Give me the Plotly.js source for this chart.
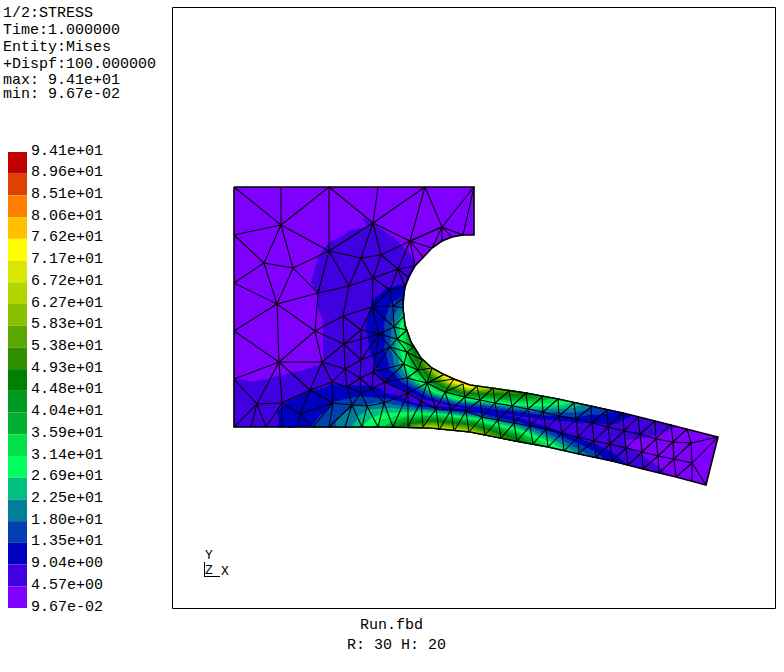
<!DOCTYPE html>
<html><head><meta charset="utf-8">
<script src="https://cdn.plot.ly/plotly-3.0.1.min.js"></script>
<style>html,body{margin:0;padding:0;background:#fff}#g{width:784px;height:672px}</style>
</head><body><div id="g"></div>
<script>
// ---- legend ----
const legendLabels=["9.41e+01","8.96e+01","8.51e+01","8.06e+01","7.62e+01","7.17e+01","6.72e+01","6.27e+01","5.83e+01","5.38e+01","4.93e+01","4.48e+01","4.04e+01","3.59e+01","3.14e+01","2.69e+01","2.25e+01","1.80e+01","1.35e+01","9.04e+00","4.57e+00","9.67e-02"];
const legendColors=["#c00000","#e04000","#ff8000","#ffc000","#ffff00","#d8e800","#b0d800","#88c000","#58a800","#309000","#008000","#009820","#00b030","#00e048","#00ff60","#00c080","#008098","#0040b0","#0000c0","#4000e0","#8000ff"];
const headerLines=["1/2:STRESS","Time:1.000000","Entity:Mises","+Dispf:100.000000","max: 9.41e+01","min: 9.67e-02"];
const headerY=[13,30,47,64,80,94];
const footerLines=["Run.fbd","R: 30 H: 20"];
// ---- stress field: stations from the inner edge to the outer edge of the part ----
const innerX=[474,452,432,415,405,403,405,411,421,432,443,454,470,493,526,558,591,623,655,687,718];
const innerY=[235,237,248,266,287,308,325,342,358,368,374,379,385,388,393,399,406,413,421,429,437];
const outerX=[474,440,400,330,234,234,234,234,234,290,345,385,430,470,515,548,579,612,643,676,706];
const outerY=[187,187,187,187,187,260,330,385,427,427,427,427,428,432,441,447,454,461,469,477,485];
const holeArcX=[474,463,452,442,432,423,415,409,405,403,403];
const holeArcY=[235,235,237,241,248,257,266,276,287,298,308];
const rowFractions=[0,.05,.1,.16,.23,.31,.4,.5,.6,.7,.8,.9,1];
const stationStress=[
[1,1,1,1,1,1,1,1,1,1,1,1,1],
[1.5,1.5,1.5,1.5,1.5,1.5,1.5,1,1,1,1,1,1],
[2,2,2,2,2,2,2,1.5,1,1,1,1,1],
[4.6,5,5.2,5.2,5.2,5.2,5,4.8,4.6,2,1,1,1],
[9.5,8,7,6,5.5,5.2,4.8,4.3,1.5,1,1,1,1],
[20,15,12,9.5,7.5,6.5,5.5,5,4,2,1,1,1],
[33,22,15,11,9,7,5.5,4.3,2,1,1,1,1],
[42,30,20,12,9,7,6,4.5,4.2,4.3,4.4,4.5,5],
[55,38,25,14,9,8,9,10,10.5,10,8.5,7,6],
[66,48,36,24,12,8,10,14,15,14,13,11,10],
[74,60,48,36,22,10,7,14,20,24,24,22,20],
[84,70,58,47,36,22,10,6,18,27,33,36,36],
[80,70,60,50,40,30,18,7,16,30,42,55,68],
[62,56,50,44,36,27,16,9,15,28,41,54,66],
[48,45,41,36,30,22,13,8,12,22,32,42,50],
[33,31,29,25,20,15,10,7,8,14,21,28,34],
[19,17.5,16,14,12,10,7.5,5.5,6.5,9,13,17,22],
[10,10,9.5,9,8.5,7.5,6,5,5,6,8,10,12],
[6,5.8,5.6,5.4,5,4.6,4,3.5,3.5,3.8,4.8,5.6,6.5],
[4,3.8,3.5,3.2,3,2.8,2.5,2.2,2.2,2.5,3,3.5,4],
[2,2,2,2,2,2,2,2,2,2,2,2,2]
];
// ---- mesh ----
const beamTopX=[432,443,454,463,477,493,509,526,542,558,574,591,607,623,638,655,671,687];
const beamTopY=[368,375,379,384,386,388,391,393,397,399,403,407,410,413,417,421,424,429];
const beamUpX=[427,445,465,480,495,512,528,543,559,576,592,608,624,640,656,673,691];
const beamUpY=[383,392,397,400,403,406,409,412,416,419,423,427,431,434,439,442,443];
const beamLowX=[408,421,436,451,466,482,498,514,530,546,562,578,594,610,626,642,658,674,692];
const beamLowY=[393,401,409,410,411,417,420,423,426,429,433,437,441,444,448,452,456,459,463];
const beamBotX=[378,393,408,423,439,454,469,485,501,517,533,548,564,579,596,612,628,643,659,676,692,706];
const beamBotY=[427,427,427,427,430,431,432,435,438,441,444,447,451,453,457,461,465,469,473,477,481,485];
const meshPaths=[
[234,187,281,225,329,251,361,258,381,255,410,241,442,227,474,187],
[281,187,281,225],
[329,187,281,225,234,235,264,263,234,283,277,304,234,331,279,362,234,379],
[329,187,329,251,293,268,281,225,264,263,293,268,318,293,329,251,349,286,318,293,277,304,264,263],
[293,268,277,304],
[329,187,373,223,378,187],[373,223,425,187,410,241,373,223,329,251],[373,223,361,258,349,286],[373,223,381,255,373,278,361,258],
[381,255,398,269,410,241],[425,187,442,227,410,241],[410,241,432,248],[410,241,424,258],[410,241,415,266],[398,269,415,266],
[398,269,408,277],[398,269,405,287],[398,269,373,278,349,286],[398,269,390,290],[373,278,390,290,372,307,373,278],[390,290,405,287],[390,290,393,306,403,298],
[442,227,452,237],[442,227,442,242],[442,227,463,235],[442,227,432,248],[474,187,463,235],
[277,304,315,331,343,316,372,307,361,330,343,316],[318,293,315,331],[349,286,343,316],
[315,331,279,362,277,304],[315,331,322,362,279,362],[315,331,344,344,322,362],[343,316,344,344,361,330],[344,344,379,334],[361,330,379,334,372,307],
[344,344,345,369,322,362],[344,344,361,360,361,330],[361,360,379,334,376,354,361,360,345,369],
[279,362,257,404,234,379],[279,362,282,403],[279,362,310,390,322,362,332,382,345,369,347,387,332,382,310,390],
[345,369,360,378,347,387],[361,360,360,378,373,372,376,354],[360,378,361,393,347,387,352,405,361,393,367,406,352,405],
[361,393,372,389,360,378],[372,389,373,372,385,382,372,389,384,403,367,406],
[310,390,282,403,257,404,251,427],[257,404,234,427],[257,404,266,427,282,403,281,427],[282,403,300,414,310,390,333,403,332,382],[300,414,298,427],
[300,414,313,427,333,403,329,427],[333,403,352,405,329,427],[352,405,345,427],[352,405,362,427,367,406,378,427,384,403,393,427],[300,414,333,403],
[372,307,393,306,394,327,379,334,397,339,394,327,403,317],[393,306,403,308],[372,307,394,327],[394,327,407,330],[397,339,407,330],
[397,339,414,347,407,352,397,339,390,347,407,352,404,364,390,347,379,334],[390,347,376,354],[390,347,373,372,404,364,385,382,373,372],
[407,352,422,360,418,370,407,352],[404,364,418,370,407,378,404,364],[407,378,385,382,408,393,407,378,427,383,418,370,432,368,427,383,443,375],
[385,382,384,403,408,393],[427,383,408,393],
[691,443,718,437,692,463,706,485]
];

// ---- build traces ----
const nC=legendColors.length, zMin=0.0967, zMax=94.1, dz=(zMax-zMin)/nC;
const gx=[],gy=[],gz=[];
rowFractions.forEach((f,r)=>{
  gx.push(innerX.map((v,s)=>v+f*(outerX[s]-v)));
  gy.push(innerY.map((v,s)=>v+f*(outerY[s]-v)));
  gz.push(stationStress.map(col=>col[r]));
});
// contour bands: every cell is cut along the level, lowest level painted first
function clip(tri,level){const out=[];for(let i=0;i<3;i++){const p=tri[i],q=tri[(i+1)%3];
  if(p[2]>=level)out.push(p);
  if((p[2]>=level)!==(q[2]>=level)){const t=(level-p[2])/(q[2]-p[2]);out.push([p[0]+t*(q[0]-p[0]),p[1]+t*(q[1]-p[1]),level]);}}
  return out;}
function bandTrace(k){const level=zMin+k*dz,x=[],y=[];
  const P=(r,s)=>[gx[r][s],gy[r][s],gz[r][s]];
  for(let r=0;r+1<gx.length;r++)for(let s=0;s+1<gx[0].length;s++){
    const a=P(r,s),b=P(r,s+1),c=P(r+1,s+1),d=P(r+1,s);
    [[a,b,c],[a,c,d]].forEach(t=>{const poly=clip(t,level);if(poly.length<3)return;
      poly.forEach(p=>{x.push(p[0]);y.push(p[1]);});x.push(poly[0][0],null);y.push(poly[0][1],null);});
  }
  const col=legendColors[nC-1-k];
  return {type:'scatter',mode:'lines',x:x,y:y,fill:'toself',fillcolor:col,line:{color:col,width:0.6},showlegend:false,hoverinfo:'skip'};
}
// mesh segments
const mx=[],my=[];
function seg(x1,y1,x2,y2){mx.push(x1,x2,null);my.push(y1,y2,null);}
meshPaths.forEach(p=>{for(let i=0;i+3<p.length;i+=2)seg(p[i],p[i+1],p[i+2],p[i+3]);});
function chain(X,Y){for(let i=0;i+1<X.length;i++)seg(X[i],Y[i],X[i+1],Y[i+1]);}
chain(beamUpX,beamUpY);chain(beamLowX,beamLowY);
for(let i=1;i<beamTopX.length;i++){ if(i-1<beamUpX.length) seg(beamTopX[i],beamTopY[i],beamUpX[i-1],beamUpY[i-1]); }
for(let j=0;j<beamUpX.length;j++){ if(j+2<beamLowX.length) seg(beamUpX[j],beamUpY[j],beamLowX[j+2],beamLowY[j+2]); if(j+2<beamTopX.length) seg(beamUpX[j],beamUpY[j],beamTopX[j+2],beamTopY[j+2]); }
for(let k=0;k<beamLowX.length;k++){ if(k+2<beamBotX.length) seg(beamLowX[k],beamLowY[k],beamBotX[k+2],beamBotY[k+2]); if(k>=1&&k-1<beamUpX.length) seg(beamLowX[k],beamLowY[k],beamUpX[k-1],beamUpY[k-1]); }
for(let m=1;m<beamBotX.length;m++){ if(m-1<beamLowX.length) seg(beamBotX[m],beamBotY[m],beamLowX[m-1],beamLowY[m-1]); }

// outline: follows the hole arc, then the inner edge, then back along the outer edge
const outlineX=[234,474].concat(holeArcX,innerX.slice(6),outerX.slice().reverse().slice(0,13),[234]);
const outlineY=[187,187].concat(holeArcY,innerY.slice(6),outerY.slice().reverse().slice(0,13),[187]);

const stepY=(608-152)/nC;
const traces=[
 {type:'bar',x:legendColors.map(()=>17.5),width:legendColors.map(()=>19),base:legendColors.map((_,i)=>152+i*stepY),y:legendColors.map(()=>stepY),marker:{color:legendColors,line:{width:0}},showlegend:false,hoverinfo:'skip'},
 {type:'scatter',mode:'lines',x:outlineX,y:outlineY,fill:'toself',fillcolor:legendColors[nC-1],line:{width:0},showlegend:false,hoverinfo:'skip'}
];
for(let k=1;k<nC;k++)traces.push(bandTrace(k));
traces.push({type:'scatter',mode:'lines',x:mx,y:my,line:{color:'#000',width:1.05},showlegend:false,hoverinfo:'skip'});
traces.push({type:'scatter',mode:'lines',x:outlineX,y:outlineY,line:{color:'#000',width:1.6},showlegend:false,hoverinfo:'skip'});
const font={family:'"Liberation Mono", monospace',size:15,color:'#000'};
const ann=[];
function txt(s,x,y,anchor,f){ann.push({text:s,x:x,y:y,xref:'x',yref:'y',xanchor:anchor||'left',yanchor:'middle',showarrow:false,borderpad:0,borderwidth:0,font:f||font});}
headerLines.forEach((s,i)=>txt(s,3,headerY[i]));
legendLabels.forEach((s,i)=>txt(s,31,151+i*(607-151)/(legendLabels.length-1)));
txt(footerLines[0],391,625,'center');txt(footerLines[1],396,645,'center');
const small=Object.assign({},font,{size:13});
txt('Y',209,555,'center',small);txt('Z',209,570,'center',small);txt('X',225,571,'center',small);

const shapes=[
 {type:'rect',xref:'x',yref:'y',x0:172.5,x1:775.5,y0:7.5,y1:608.5,line:{color:'#000',width:1}},
 {type:'line',xref:'x',yref:'y',x0:204.5,x1:204.5,y0:562,y1:576.5,line:{color:'#000',width:1}},
 {type:'line',xref:'x',yref:'y',x0:204,x1:220,y0:576.5,y1:576.5,line:{color:'#000',width:1}}
];
const noAxis={showgrid:false,zeroline:false,showticklabels:false,ticks:'',showline:false,fixedrange:true};
Plotly.newPlot('g',traces,{
 width:784,height:672,margin:{l:0,r:0,t:0,b:0,pad:0},paper_bgcolor:'#fff',plot_bgcolor:'#fff',
 xaxis:Object.assign({range:[0,784]},noAxis),yaxis:Object.assign({range:[672,0]},noAxis),
 barmode:'overlay',showlegend:false,hovermode:false,annotations:ann,shapes:shapes
},{displayModeBar:false,staticPlot:true});
</script></body></html>
